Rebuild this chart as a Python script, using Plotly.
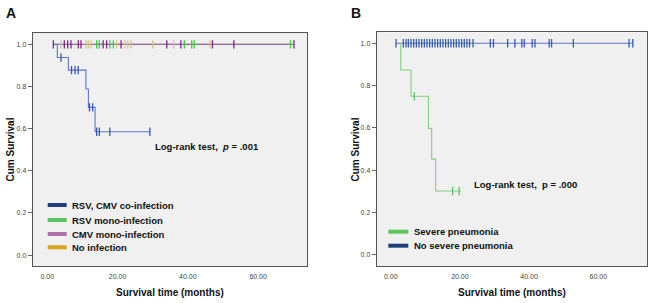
import plotly.graph_objects as go

W, H = 650, 303

# ---------------- Panel A data ----------------
co_t = [1.7, 2.85, 6.0, 11.0, 11.7, 13.6, 29.2]
co_s = [1.0, 0.938, 0.878, 0.788, 0.701, 0.585, 0.585]
co_cens_t = [3.9, 6.9, 7.9, 8.8, 12.0, 12.9, 14.05, 14.8, 17.8, 29.2]
co_cens_s = [0.938, 0.878, 0.878, 0.878, 0.701, 0.701, 0.585, 0.585, 0.585, 0.585]

rsv_cens_t = [14.05, 14.8, 17.8, 18.8, 39.0, 41.1, 41.8, 69.2]
cmv_cens_t = [1.72, 4.85, 5.8, 6.74, 8.83, 9.59, 15.9, 16.9, 21.0, 34.0, 38.0, 47.0, 53.1, 70.2]
no_cens_t = [3.9, 11.0, 11.67, 12.43, 19.7, 22.1, 22.9, 23.8, 30.0, 35.9, 46.3]

groups_A = ["RSV, CMV co-infection", "RSV mono-infection", "CMV mono-infection", "No infection"]
legend_A_colors = ["#1f3f7a", "#5cc45c", "#b070a8", "#d9a521"]

# ---------------- Panel B data ----------------
sev_t = [2.9, 2.9, 5.87, 10.9, 11.85, 13.0, 20.3]
sev_s = [1.0, 0.874, 0.75, 0.598, 0.453, 0.302, 0.302]
sev_cens_t = [6.83, 17.9, 19.8]
sev_cens_s = [0.75, 0.302, 0.302]

nosev_cens_t = [1.53, 3.65, 4.42, 5.09, 5.87, 6.64, 7.41, 8.18, 8.95, 9.72, 10.49,
                11.26, 12.03, 12.8, 13.57, 14.34, 15.1, 15.88, 16.65, 17.42, 18.19,
                18.96, 19.73, 20.5, 21.27, 22.04, 22.8, 23.8, 28.8, 29.7, 33.8, 35.9,
                37.9, 38.6, 40.9, 41.7, 45.8, 46.5, 52.8, 68.9, 70.0]

groups_B = ["Severe pneumonia", "No severe pneumonia"]
legend_B_colors = ["#5cc85c", "#1f3f7a"]

xticks = [0, 20, 40, 60]
yticks = [0.0, 0.2, 0.4, 0.6, 0.8, 1.0]

FONT = "Arial, Liberation Sans, sans-serif"

fig = go.Figure()

def censor(t, s, color, xa, ya):
    fig.add_trace(go.Scatter(x=t, y=s, mode="markers", xaxis=xa, yaxis=ya, showlegend=False,
                             marker=dict(symbol="line-ns", size=6, line=dict(width=1.3, color=color)),
                             hoverinfo="skip"))

def steps(t, s, color, xa, ya, width=1.1):
    fig.add_trace(go.Scatter(x=t, y=s, mode="lines", xaxis=xa, yaxis=ya, showlegend=False,
                             line=dict(shape="hv", color=color, width=width), hoverinfo="skip"))

# Panel A
steps([min(rsv_cens_t), max(rsv_cens_t)], [1.0, 1.0], "#7ccf7c", "x", "y")
steps([min(no_cens_t), max(no_cens_t)], [1.0, 1.0], "#d8cc90", "x", "y")
steps([min(cmv_cens_t), max(cmv_cens_t)], [1.0, 1.0], "#9a6aa8", "x", "y")
steps(co_t, co_s, "#5a78c8", "x", "y")
censor(co_cens_t, co_cens_s, "#3a58b0", "x", "y")
censor(no_cens_t, [1.0] * len(no_cens_t), "#d2c68a", "x", "y")
censor(rsv_cens_t, [1.0] * len(rsv_cens_t), "#3ccc3c", "x", "y")
censor(cmv_cens_t, [1.0] * len(cmv_cens_t), "#7b2a8a", "x", "y")

# Panel B
steps([min(nosev_cens_t), max(nosev_cens_t)], [1.0, 1.0], "#5a78c8", "x2", "y2")
steps(sev_t, sev_s, "#80d080", "x2", "y2")
censor(nosev_cens_t, [1.0] * len(nosev_cens_t), "#3a58b0", "x2", "y2")
censor(sev_cens_t, sev_cens_s, "#60c060", "x2", "y2")

def px(x):
    return x / W

def py(y):
    return 1 - y / H

axis_common = dict(showline=True, mirror=True, linecolor="#555", linewidth=1,
                   showgrid=False, zeroline=False,
                   tickfont=dict(family=FONT, size=7, color="#444"))

fig.update_layout(
    width=W, height=H, margin=dict(l=0, r=0, t=0, b=0),
    paper_bgcolor="white", plot_bgcolor="#f0f0f0",
    showlegend=False,
    xaxis=dict(domain=[px(32.7), px(307)], range=[-4.15, 73.9], tickvals=xticks,
               tickformat=".2f", ticks="outside", ticklen=4, tickcolor="rgba(0,0,0,0)",
               anchor="y", **axis_common),
    yaxis=dict(domain=[py(266), py(33)], range=[-0.052, 1.054], tickvals=yticks,
               tickformat=".1f", ticks="outside", ticklen=4, tickcolor="#666",
               anchor="x", **axis_common),
    xaxis2=dict(domain=[px(376.7), px(646.7)], range=[-4.05, 74.0], tickvals=xticks,
                tickformat=".2f", ticks="outside", ticklen=4, tickcolor="rgba(0,0,0,0)",
                anchor="y2", **axis_common),
    yaxis2=dict(domain=[py(266), py(32.3)], range=[-0.052, 1.052], tickvals=yticks,
                tickformat=".1f", ticks="outside", ticklen=4, tickcolor="#666",
                anchor="x2", **axis_common),
)

ann = []
shapes = []
def text(x, y, s, size, xanchor="center", angle=0, color="#111"):
    ann.append(dict(x=px(x), y=py(y), xref="paper", yref="paper", text=s, showarrow=False,
                    xanchor=xanchor, yanchor="middle", textangle=angle,
                    font=dict(family=FONT, size=size, color=color)))

text(10.7, 12.5, "<b>A</b>", 14)
text(356, 12.5, "<b>B</b>", 14)
text(9.5, 150, "<b>Cum Survival</b>", 10, angle=-90)
text(354.5, 150, "<b>Cum Survival</b>", 10, angle=-90)
text(170, 292.7, "<b>Survival time (months)</b>", 10)
text(511.7, 292.7, "<b>Survival time (months)</b>", 10)
text(152.7, 146, "<b>Log-rank test,\u00a0\u00a0<i>p</i> = .001</b>", 9.5, xanchor="left")
text(471.7, 185, "<b>Log-rank test,\u00a0\u00a0p = .000</b>", 9.5, xanchor="left")

for i, (name, col) in enumerate(zip(groups_A, legend_A_colors)):
    yy = [205, 220, 234, 247.3][i]
    shapes.append(dict(type="line", xref="paper", yref="paper", x0=px(47.7), x1=px(66.7),
                       y0=py(yy), y1=py(yy), line=dict(color=col, width=4)))
    text(70, yy, "<b>%s</b>" % name, 9.5, xanchor="left")

for i, (name, col) in enumerate(zip(groups_B, legend_B_colors)):
    yy = [231.7, 245.7][i]
    shapes.append(dict(type="line", xref="paper", yref="paper", x0=px(388.3), x1=px(408.3),
                       y0=py(yy), y1=py(yy), line=dict(color=col, width=4)))
    text(412.3, yy, "<b>%s</b>" % name, 9.5, xanchor="left")

fig.update_layout(annotations=ann, shapes=shapes)
fig.write_html("out.html", config={"displayModeBar": False},
               post_script="document.body.style.margin='0';document.body.style.overflow='hidden';")
